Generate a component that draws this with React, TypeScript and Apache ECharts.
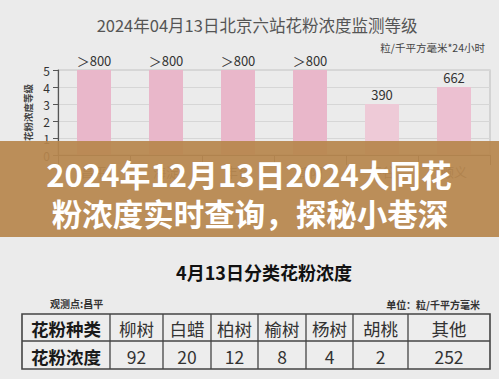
import React, { useEffect, useRef } from "react";
import * as echarts from "echarts";

const stations = ["昌平", "海淀", "丰台", "朝阳", "平谷", "顺义"];
const levels = [5, 5, 5, 5, 3, 4];
const levelLabels = ["＞800", "＞800", "＞800", "＞800", "390", "662"];
const yTicks = [0, 1, 2, 3, 4, 5];

const pollenTypes = ["柳树", "白蜡", "柏树", "榆树", "杨树", "胡桃", "其他"];
const pollenValues = [92, 20, 12, 8, 4, 2, 252];

const chartTitle = "2024年04月13日北京六站花粉浓度监测等级";
const chartUnit = "粒/千平方毫米*24小时";
const yName = "花粉浓度等级";
const bannerLines = ["2024年12月13日2024大同花", "粉浓度实时查询，探秘小巷深"];
const tableTitle = "4月13日分类花粉浓度";
const tableSite = "观测点:昌平";
const tableUnit = "单位：粒/千平方毫米";
const rowHeaders = ["花粉种类", "花粉浓度"];

const FONT = '"Noto Sans CJK SC", "Noto Sans", sans-serif';

export default function App() {
  const ref = useRef<HTMLDivElement>(null);
  useEffect(() => {
    if (!ref.current) return;
    const chart = echarts.init(ref.current, undefined, { renderer: "svg" });

    const barColors = ["#e9b7ca", "#e9b7ca", "#e9b7ca", "#e9b7ca", "#eecad7", "#ecc0d1"];

    // table layout
    const colX = [22, 110, 163, 211, 258, 306, 353, 408, 490];
    const rowY = [314, 341, 369];
    const tableEls: any[] = [];
    tableEls.push({
      type: "rect",
      shape: { x: colX[0], y: rowY[0], width: colX[colX.length - 1] - colX[0], height: rowY[2] - rowY[0] },
      style: { fill: "#ededed", stroke: "#444", lineWidth: 1.6 },
      z: 50,
    });
    for (let i = 1; i < colX.length - 1; i++) {
      tableEls.push({
        type: "line",
        shape: { x1: colX[i], y1: rowY[0], x2: colX[i], y2: rowY[2] },
        style: { stroke: "#444", lineWidth: 1.3 },
        z: 51,
      });
    }
    tableEls.push({
      type: "line",
      shape: { x1: colX[0], y1: rowY[1], x2: colX[colX.length - 1], y2: rowY[1] },
      style: { stroke: "#444", lineWidth: 1.3 },
      z: 51,
    });
    const cellText = (txt: string, c: number, r: number, bold: boolean) => ({
      type: "text",
      x: (colX[c] + colX[c + 1]) / 2,
      y: (rowY[r] + rowY[r + 1]) / 2 + 1,
      style: {
        text: txt,
        fill: bold ? "#1a1a1a" : "#333",
        font: `${bold ? "bold " : ""}17.5px ${FONT}`,
        align: "center",
        verticalAlign: "middle",
      },
      z: 52,
    });
    tableEls.push(cellText(rowHeaders[0], 0, 0, true));
    tableEls.push(cellText(rowHeaders[1], 0, 1, true));
    pollenTypes.forEach((t, i) => tableEls.push(cellText(t, i + 1, 0, false)));
    pollenValues.forEach((v, i) => tableEls.push(cellText(String(v), i + 1, 1, false)));

    chart.setOption({
      animation: false,
      backgroundColor: "#ebebeb",
      grid: {
        left: 58,
        top: 70,
        right: 9,
        bottom: 224,
        show: true,
        borderColor: "#c4c4c4",
        borderWidth: 1.2,
      },
      xAxis: {
        type: "category",
        data: stations,
        axisLine: { lineStyle: { color: "#555", width: 1.2 } },
        axisTick: { show: true, alignWithLabel: false, length: 10, lineStyle: { color: "#555" } },
        axisLabel: { color: "#555", fontSize: 13, fontFamily: FONT, margin: 10 },
      },
      yAxis: {
        type: "value",
        min: 0,
        max: 5,
        interval: 1,
        name: yName,
        nameLocation: "middle",
        nameRotate: 90,
        nameGap: 22,
        nameTextStyle: { fontSize: 9.5, color: "#444", fontFamily: FONT, fontWeight: "bold" },
        axisLine: { show: true, lineStyle: { color: "#555", width: 1.2 } },
        axisTick: { show: true, length: 5, lineStyle: { color: "#555" } },
        axisLabel: {
          color: "#333",
          fontSize: 12,
          fontFamily: FONT,
          margin: 8,
          formatter: (v: number) => (yTicks.includes(v) ? String(v) : ""),
        },
        splitLine: { lineStyle: { color: "#d6d6d6", width: 1 } },
      },
      series: [
        {
          type: "bar",
          barWidth: 34,
          data: levels.map((v, i) => ({ value: v, itemStyle: { color: barColors[i] } })),
          label: {
            show: true,
            position: "top",
            distance: 3,
            color: "#333",
            fontSize: 13,
            fontFamily: FONT,
            formatter: (p: any) => levelLabels[p.dataIndex],
          },
        },
      ],
      graphic: [
        {
          type: "text",
          x: 257,
          y: 25,
          style: {
            text: chartTitle,
            fill: "#555",
            font: `16.5px ${FONT}`,
            align: "center",
            verticalAlign: "middle",
          },
        },
        {
          type: "text",
          x: 485,
          y: 47,
          style: {
            text: chartUnit,
            fill: "#444",
            font: `10.5px ${FONT}`,
            align: "right",
            verticalAlign: "middle",
          },
        },
        {
          type: "rect",
          shape: { x: 0, y: 141, width: 499, height: 96 },
          style: { fill: "rgba(183,134,78,0.93)" },
          z: 100,
        },
        {
          type: "text",
          x: 249,
          y: 173,
          style: {
            text: bannerLines[0],
            fill: "#ffffff",
            font: `bold 31px ${FONT}`,
            align: "center",
            verticalAlign: "middle",
          },
          z: 101,
        },
        {
          type: "text",
          x: 250,
          y: 213,
          style: {
            text: bannerLines[1],
            fill: "#ffffff",
            font: `bold 30.5px ${FONT}`,
            align: "center",
            verticalAlign: "middle",
          },
          z: 101,
        },
        {
          type: "text",
          x: 264,
          y: 272,
          style: {
            text: tableTitle,
            fill: "#111",
            font: `bold 18px ${FONT}`,
            align: "center",
            verticalAlign: "middle",
          },
        },
        {
          type: "text",
          x: 50,
          y: 303,
          style: {
            text: tableSite,
            fill: "#333",
            font: `bold 10px ${FONT}`,
            align: "left",
            verticalAlign: "middle",
          },
        },
        {
          type: "text",
          x: 480,
          y: 304,
          style: {
            text: tableUnit,
            fill: "#333",
            font: `bold 10px ${FONT}`,
            align: "right",
            verticalAlign: "middle",
          },
        },
        ...tableEls,
      ],
    });
    return () => chart.dispose();
  }, []);

  return (
    <div
      ref={ref}
      style={{ position: "fixed", left: 0, top: 0, width: 499, height: 379, background: "#ebebeb" }}
    />
  );
}
